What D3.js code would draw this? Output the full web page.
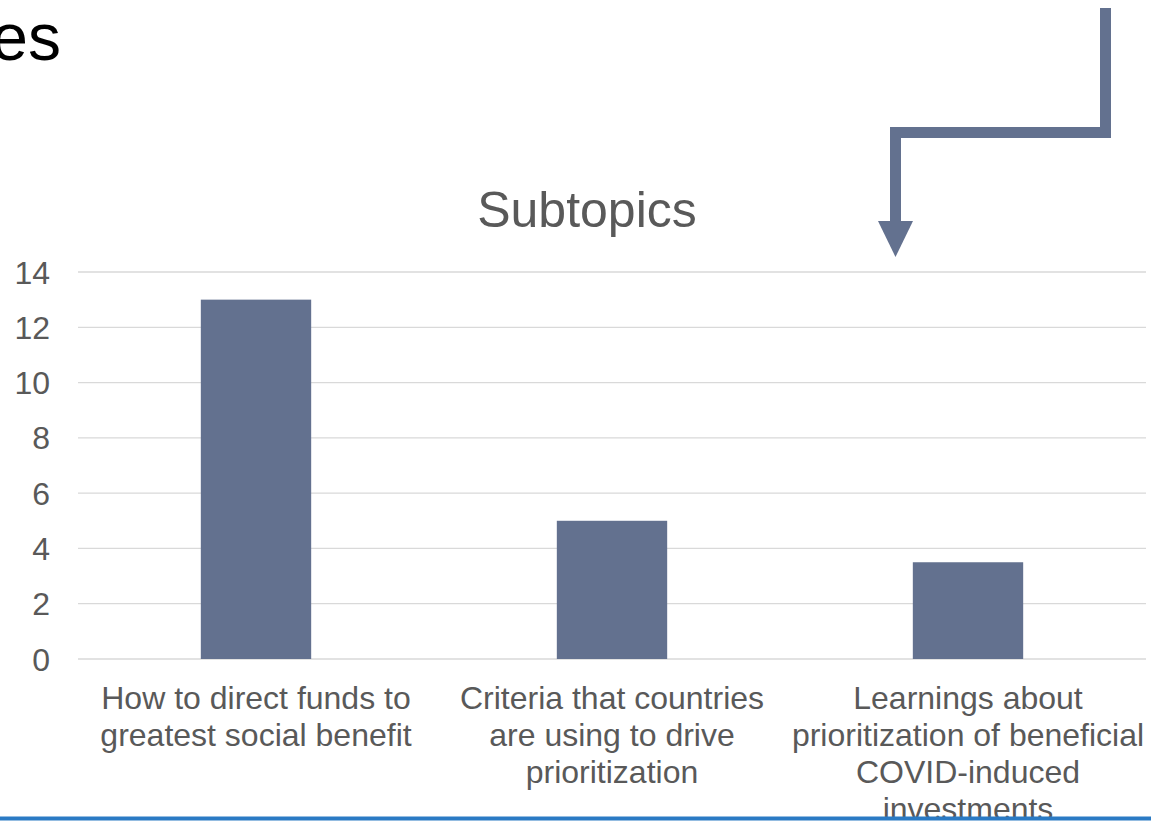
<!DOCTYPE html>
<html>
<head>
<meta charset="utf-8">
<script src="https://cdn.jsdelivr.net/npm/d3@7"></script>
<style>
  body { margin: 0; background: #fff; }
  text { font-family: Arial, "Liberation Sans", sans-serif; }
</style>
</head>
<body>
<svg id="chart" width="1151" height="821"></svg>
<script>
const categories = [
    "How to direct funds to greatest social benefit",
    "Criteria that countries are using to drive prioritization",
    "Learnings about prioritization of beneficial COVID-induced investments"
];
const categoryLines = [
    ["How to direct funds to", "greatest social benefit"],
    ["Criteria that countries", "are using to drive", "prioritization"],
    ["Learnings about", "prioritization of beneficial", "COVID-induced", "investments"]
];
const values = [13, 5, 3.5];
const yTicks = [0, 2, 4, 6, 8, 10, 12, 14];

const svg = d3.select("#chart");
const barColor = "#63718f";
const textColor = "#595959";

// cut-off slide title at the top left
svg.append("text")
    .attr("x", 61)
    .attr("y", 60)
    .attr("text-anchor", "end")
    .style("font-size", "66px")
    .style("fill", "#000")
    .text("es");

const x = d3.scaleBand()
    .domain(categories)
    .range([78, 1146])
    .paddingInner(0.69)
    .paddingOuter(0.345);

const y = d3.scaleLinear()
    .domain([0, 14])
    .range([659, 272]);

// gridlines
svg.append("g")
    .selectAll("line")
    .data(yTicks)
    .enter().append("line")
    .attr("x1", 78)
    .attr("x2", 1146)
    .attr("y1", d => y(d))
    .attr("y2", d => y(d))
    .style("stroke", "#d9d9d9")
    .style("stroke-width", 1.3);

// y tick labels
svg.append("g")
    .selectAll("text")
    .data(yTicks)
    .enter().append("text")
    .attr("x", 50)
    .attr("y", d => y(d) + 11.5)
    .attr("text-anchor", "end")
    .style("font-size", "32px")
    .style("fill", textColor)
    .text(d => d);

// bars
svg.append("g")
    .selectAll("rect")
    .data(values)
    .enter().append("rect")
    .attr("x", (d, i) => x(categories[i]))
    .attr("width", x.bandwidth())
    .attr("y", d => y(d))
    .attr("height", d => y(0) - y(d))
    .style("fill", barColor);

// category labels
const labels = svg.append("g")
    .selectAll("text")
    .data(categories)
    .enter().append("text")
    .attr("text-anchor", "middle")
    .style("font-size", "32px")
    .style("fill", textColor);

labels.each(function(d, i) {
    const cx = x(d) + x.bandwidth() / 2;
    d3.select(this).selectAll("tspan")
        .data(categoryLines[i])
        .enter().append("tspan")
        .attr("x", cx)
        .attr("y", (t, j) => 709 + j * 37)
        .text(t => t);
});

// chart title
svg.append("text")
    .attr("x", 587)
    .attr("y", 227)
    .attr("text-anchor", "middle")
    .style("font-size", "50px")
    .style("fill", textColor)
    .text("Subtopics");

// elbow arrow pointing down into the chart
svg.append("path")
    .attr("d", "M1105.5,8 V132.5 H895.5 V222")
    .style("fill", "none")
    .style("stroke", barColor)
    .style("stroke-width", 11);

svg.append("path")
    .attr("d", "M878,221 L913,221 L895.5,257 Z")
    .style("fill", barColor);

// blue rule at the bottom of the slide
svg.append("line")
    .attr("x1", 0)
    .attr("x2", 1151)
    .attr("y1", 818.5)
    .attr("y2", 818.5)
    .style("stroke", "#2a7ac4")
    .style("stroke-width", 4);
</script>
</body>
</html>
